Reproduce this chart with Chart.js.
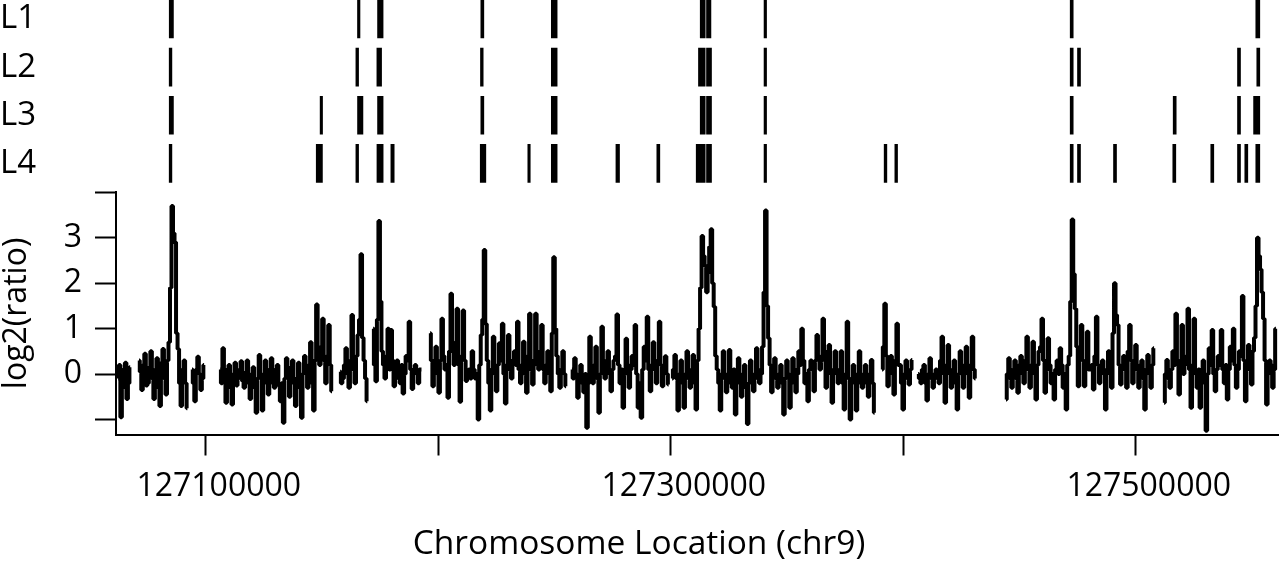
<!DOCTYPE html>
<html lang="en">
<head>
<meta charset="UTF-8">
<title>log2(ratio) along chr9</title>
<script src="https://cdn.jsdelivr.net/npm/chart.js@4.4.1/dist/chart.umd.min.js"></script>
<style>
  html, body { margin: 0; padding: 0; background: #fff; }
  .wrap { width: 1280px; height: 561px; position: relative; }
</style>
</head>
<body>
<div class="wrap"><canvas id="chart"></canvas></div>
<script>
// window on chr9 shown on the x axis (bp)
const xMin = 127061400;
const xMax = 127561200;
const xTicks = [127100000, 127200000, 127300000, 127400000, 127500000];
const xLabels = [127100000, 127300000, 127500000];
const yTicks = [-1, 0, 1, 2, 3, 4];
const yLabels = [0, 1, 2, 3];

// probe spacing on the tiling array (bp)
const probeStep = 650;

// contiguous probe blocks: first probe position, then log2 ratios
const blockStarts = [127062300, 127071300, 127094100, 127106200, 127157800, 127172000,
  127196500, 127257500, 127300600, 127390900, 127406400, 127444200, 127512200];
const blockValues = [
  [-0.1, 0.2, -0.95, -0.3, 0.1, 0.25, -0.55, -0.2, 0.15],
  [0.3, 0.05, -0.35, 0.2, 0.45, -0.25, -0.2, 0.15, 0.5, -0.1, -0.55, 0.1, 0.35, -0.3, -0.7, 0.25,
   0.55, -0.1, -0.45, 0.3, 0.7, 1.9, 3.7, 3.1, 2.9, 0.9, 0.55, -0.2, -0.7, 0.1, 0.3, -0.2, -0.75],
  [0.1, -0.2, -0.6, 0.1, 0.38, 0.0, -0.35, -0.1, 0.2],
  [0.1, -0.2, 0.57, 0.1, -0.63, -0.1, 0.2, -0.3, -0.67, 0.0, 0.25, -0.25, -0.1, 0.1, 0.28, -0.15,
   -0.3, 0.05, 0.3, -0.2, -0.55, 0.0, 0.15, -0.3, -0.85, -0.1, 0.42, 0.0, -0.8, -0.2, 0.3, -0.1,
   -0.45, 0.1, 0.35, -0.2, -0.3, 0.1, 0.2, -0.25, -0.6, -0.2, -1.07, -0.1, 0.35, 0.0, -0.5, 0.15,
   0.3, -0.2, -0.7, -0.1, 0.25, -0.3, -0.96, 0.0, 0.4, 0.1, -0.3, 0.2, 0.7, -0.2, -0.8, 0.3,
   1.53, 0.5, 0.2, 0.6, 1.22, 0.3, -0.2, 0.4, 1.08, 0.2, -0.38],
  [0.05, -0.2, -0.1, 0.2, 0.57, 0.0, -0.3, 0.3, 1.3, 0.1, -0.2, 0.4, 0.86, 1.2, 2.64, 0.8,
   0.3, -0.1, -0.6],
  [1.0, 0.2, -0.16, 1.2, 3.37, 1.6, 0.5, 0.2, -0.1, 0.4, 1.0, 0.1, 0.97, 0.3, -0.27, 0.0,
   0.3, -0.1, -0.2, 0.2, -0.43, 0.0, 0.4, 0.3, 1.15, 0.1, -0.33, 0.05, 0.2, 0.0, -0.2, 0.1, 0.1],
  [0.9, 0.3, -0.27, 0.1, 0.6, 0.0, -0.41, 0.3, 1.22, 0.4, 0.1, 0.2, -0.52, 0.5, 1.77, 0.6,
   0.2, 0.7, 1.44, 0.2, -0.61, 0.4, 1.4, 0.3, -0.15, 0.0, 0.1, -0.1, 0.5, 0.1, -0.1, 0.0,
   -1.0, 0.2, 0.86, 1.2, 2.73, 1.1, 0.3, -0.2, -0.8, 0.1, 0.82, 0.0, -0.38, 0.2, 0.68, 0.3,
   1.11, 0.0, -0.65, 0.2, 0.86, 0.1, -0.1, 0.3, 0.5, 0.2, 1.15, 0.1, -0.2, 0.2, 0.71, 0.0,
   -0.41, 0.4, 1.33, 0.1, -0.23, 0.3, 1.33, 0.2, 0.1, 0.5, 1.08, 0.1, -0.2, 0.2, 0.5, 0.0,
   -0.38, 0.9, 2.57, 1.0, 0.4, 0.0, -0.3, 0.1, 0.5, 0.0, -0.27],
  [0.1, -0.1, 0.35, 0.0, -0.52, -0.1, 0.2, -0.2, -0.4, 0.0, -1.18, -0.2, 0.82, 0.1, -0.2, 0.2,
   0.6, -0.1, -0.85, 0.0, 1.04, 0.2, -0.1, 0.3, 0.5, 0.0, -0.38, 0.1, 0.3, 0.4, 1.31, 0.2,
   -0.2, 0.1, -0.74, 0.0, 0.78, 0.2, -0.3, 0.1, 0.4, 0.2, 1.08, 0.0, -0.74, -0.2, -0.96, 0.1,
   0.6, 0.3, 1.26, 0.1, -0.38, 0.2, 0.7, 0.1, -0.2, 0.3, 1.15, 0.2, -0.27, 0.1, 0.39, 0.0, -0.23],
  [-0.1, 0.1, 0.42, -0.1, -0.8, 0.0, 0.3, -0.2, -0.74, 0.0, 0.5, -0.1, -0.3, 0.1, 0.42, -0.2,
   -0.78, 0.3, 1.0, 1.9, 3.04, 2.6, 2.39, 1.8, 2.24, 2.8, 3.19, 2.0, 1.48, 0.4, 0.1, -0.2,
   -0.8, 0.0, 0.5, -0.1, -0.4, 0.0, 0.53, -0.2, -0.3, 0.1, -0.89, -0.2, 0.35, 0.0, -0.5, -0.1,
   0.2, -0.3, -1.1, -0.2, 0.3, 0.0, -0.38, -0.1, 0.57, 0.1, -0.2, 0.0, 0.6, 1.8, 3.6, 1.5,
   0.79, 0.2, -0.4, 0.1, 0.35, -0.1, -0.3, 0.0, 0.2, -0.2, -0.89, -0.1, 0.3, 0.0, -0.74, -0.2,
   0.35, 0.1, -0.4, 0.0, 0.5, 0.2, 1.0, 0.3, -0.2, 0.0, -0.6, 0.1, 0.3, 0.2, -0.38, 0.3,
   0.86, 0.4, 0.1, 0.3, 1.22, 0.5, -0.3, 0.2, 0.64, 0.0, -0.63, 0.1, 0.5, 0.0, -0.2, 0.1,
   0.5, -0.2, -0.78, 0.0, 1.15, -0.1, -1.0, -0.2, 0.2, -0.1, -0.8, 0.0, 0.5, -0.2, -0.3, 0.0,
   0.2, -0.2, -0.5, 0.0, 0.31, -0.2, -0.85],
  [0.1, 0.6, 1.55, 0.4, -0.27, 0.1, 0.4, 0.0, -0.45, 0.3, 1.11, 0.2, 0.2, -0.2, -0.78, 0.0,
   0.3, -0.1, -0.23, 0.1, 0.31],
  [0.0, -0.1, -0.2, 0.1, 0.2, -0.2, -0.58, 0.0, 0.35, -0.1, -0.3, 0.0, 0.1, -0.1, -0.2, 0.3,
   0.82, 0.0, -0.63, 0.2, 0.64, 0.0, -0.3, 0.1, 0.3, -0.2, -0.78, 0.0, 0.5, 0.1, -0.3, 0.2,
   0.6, 0.0, -0.52, 0.2, 0.82, 0.1, -0.1],
  [-0.56, 0.0, 0.35, -0.1, -0.3, 0.1, 0.3, -0.1, -0.41, 0.2, 0.4, 0.0, -0.2, 0.3, 0.82, 0.1,
   -0.3, 0.2, 0.71, 0.0, -0.56, 0.2, 0.5, 0.6, 1.22, 0.3, -0.41, 0.1, 0.79, 0.2, -0.2, 0.0,
   -0.56, 0.1, 0.3, 0.0, 0.57, 0.2, -0.3, 0.0, -0.78, 0.2, 0.4, 1.6, 3.4, 2.2, 1.44, 0.6,
   -0.27, 0.4, 1.08, 0.3, -0.27, 0.2, 0.93, 0.1, 0.1, 0.2, -0.34, 0.4, 1.26, 0.2, -0.2, 0.0,
   0.3, 0.1, -0.78, 0.0, 0.5, 0.3, -0.3, 0.9, 2.0, 1.3, 1.08, 0.2, -0.23, 0.1, 0.4, 0.3,
   -0.3, 0.5, 1.08, 0.3, -0.2, 0.2, 0.64, 0.1, -0.3, 0.2, 0.3, -0.1, -0.78, 0.1, 0.42, 0.0,
   -0.3, 0.2, 0.57],
  [-0.63, 0.0, 0.31, -0.1, -0.3, 0.1, 0.5, 0.2, 1.33, 0.3, -0.45, 0.2, 1.08, 0.0, 0.2, 0.4,
   1.44, 0.1, -0.74, 0.2, 1.22, 0.0, -0.3, 0.1, -0.74, 0.0, 0.3, -0.2, -1.25, 0.0, 0.57, 0.2,
   0.97, 0.0, -0.38, 0.1, 0.4, 0.2, 0.97, 0.1, -0.2, 0.2, -0.56, 0.1, 0.6, 0.3, 1.0, 0.2,
   -0.3, 0.1, 0.5, 0.4, 1.72, 0.3, -0.6, 0.1, 0.64, 0.2, -0.23, 0.5, 0.8, 1.5, 3.0, 2.6,
   2.3, 1.8, 1.22, 0.3, -0.67, 0.0, 0.3, 0.2, -0.3, 0.1, 1.0]
];

// called regions per line (bp start, bp end)
const trackNames = ['L1', 'L2', 'L3', 'L4'];
const l1Regions = [[127084300, 127086100], [127165270, 127166340], [127173900, 127176280],
  [127218320, 127219610], [127248640, 127251140], [127312690, 127314830], [127315390, 127317290],
  [127340140, 127341220], [127471820, 127473110], [127551650, 127553370]];
const l2Regions = [[127084280, 127085440], [127164580, 127165740], [127173610, 127175630],
  [127218170, 127219330], [127248640, 127251140], [127311930, 127314810], [127315390, 127317540],
  [127340140, 127341220], [127471820, 127473110], [127474960, 127476250], [127543780, 127545070],
  [127552080, 127553370]];
const l3Regions = [[127084300, 127086100], [127149200, 127150240], [127165290, 127167610],
  [127173900, 127176280], [127218320, 127219610], [127248640, 127251140], [127312690, 127314830],
  [127315390, 127317540], [127340140, 127341220], [127471820, 127473110], [127516120, 127517410],
  [127543780, 127545070], [127550700, 127553370]];
const l4Regions = [[127084280, 127085440], [127147530, 127150190], [127164580, 127165740],
  [127173640, 127176300], [127179630, 127181050], [127218070, 127220470], [127238530, 127239570],
  [127248640, 127251140], [127276430, 127277970], [127294020, 127295310], [127310960, 127314830],
  [127315390, 127317540], [127340140, 127341220], [127391800, 127392960], [127396400, 127397560],
  [127471820, 127473110], [127474960, 127476250], [127490450, 127491740], [127515950, 127517240],
  [127532290, 127533580], [127543780, 127545070], [127546920, 127548210], [127551650, 127553370]];

// build the line points, a null after each block breaks the line
const signal = [];
blockStarts.forEach((start, b) => {
  const vals = blockValues[b];
  vals.forEach((v, i) => signal.push({ x: start + i * probeStep, y: v }));
  signal.push({ x: start + vals.length * probeStep, y: null });
});

const trackBars = [];
[l1Regions, l2Regions, l3Regions, l4Regions].forEach((regions, t) => {
  regions.forEach(r => trackBars.push({ x: r, y: t + 1 }));
});

const font = { family: "'Open Sans', sans-serif", size: 32 };
const tickGrid = { drawOnChartArea: false, drawTicks: true, tickLength: 21, tickWidth: 2, tickColor: '#000' };

// keep the layout from reserving room for labels near the edges
function noEdgePadding(s) {
  s.paddingTop = 0;
  s.paddingBottom = 0;
  s.paddingLeft = 0;
  s.paddingRight = 0;
}

new Chart(document.getElementById('chart'), {
  type: 'line',
  data: {
    datasets: [
      {
        type: 'bar',
        indexAxis: 'y',
        data: trackBars,
        xAxisID: 'x',
        yAxisID: 'tracks',
        backgroundColor: '#000',
        borderWidth: 0,
        barThickness: 38
      },
      {
        type: 'line',
        data: signal,
        xAxisID: 'x',
        yAxisID: 'y',
        borderColor: '#000',
        borderWidth: 4,
        borderJoinStyle: 'bevel',
        borderCapStyle: 'butt',
        stepped: 'middle',
        pointRadius: 0,
        spanGaps: false
      }
    ]
  },
  options: {
    responsive: true,
    maintainAspectRatio: false,
    animation: false,
    events: [],
    datasets: { bar: { indexAxis: 'y' } },
    layout: { padding: { top: 0, right: 2, bottom: 0, left: 0 } },
    plugins: {
      legend: { display: false },
      tooltip: { enabled: false },
      title: {
        display: true,
        position: 'bottom',
        text: 'Chromosome Location (chr9)',
        color: '#000',
        font: { ...font, size: 33.5, weight: 'normal', lineHeight: 1 },
        padding: 0
      }
    },
    scales: {
      x: {
        type: 'linear',
        position: 'bottom',
        min: xMin,
        max: xMax,
        offset: false,
        afterBuildTicks: s => { s.ticks = xTicks.map(v => ({ value: v })); },
        afterFit: s => { s.height = 93; noEdgePadding(s); },
        border: { display: true, color: '#000', width: 2 },
        grid: tickGrid,
        ticks: {
          color: '#000', font, padding: 12, labelOffset: 13, maxRotation: 0, autoSkip: false,
          callback: v => xLabels.includes(v) ? String(v) : ''
        }
      },
      tracks: {
        type: 'linear',
        position: 'left',
        stack: 'left',
        stackWeight: 193,
        weight: 1,
        reverse: true,
        offset: false,
        min: 0.607,
        max: 4.6,
        afterBuildTicks: s => { s.ticks = trackNames.map((n, i) => ({ value: i + 1 })); },
        afterFit: s => { s.width = 116; noEdgePadding(s); },
        border: { display: false },
        grid: { display: false },
        ticks: {
          color: '#000', font: { ...font, size: 33 }, crossAlign: 'far', padding: 0, autoSkip: false,
          callback: v => trackNames[v - 1]
        }
      },
      y: {
        type: 'linear',
        position: 'left',
        stack: 'left',
        stackWeight: 243,
        weight: 0,
        min: -1.33,
        max: 4,
        afterBuildTicks: s => { s.ticks = yTicks.map(v => ({ value: v })); },
        afterFit: s => { s.width = 116; noEdgePadding(s); },
        border: { display: true, color: '#000', width: 2 },
        grid: tickGrid,
        title: {
          display: true, text: 'log2(ratio)', color: '#000',
          font: { ...font, lineHeight: 1 }, padding: { top: 1, bottom: 0 }
        },
        ticks: {
          color: '#000', font, padding: 13, autoSkip: false,
          callback: v => yLabels.includes(v) ? String(v) : ''
        }
      }
    }
  }
});
</script>
</body>
</html>
